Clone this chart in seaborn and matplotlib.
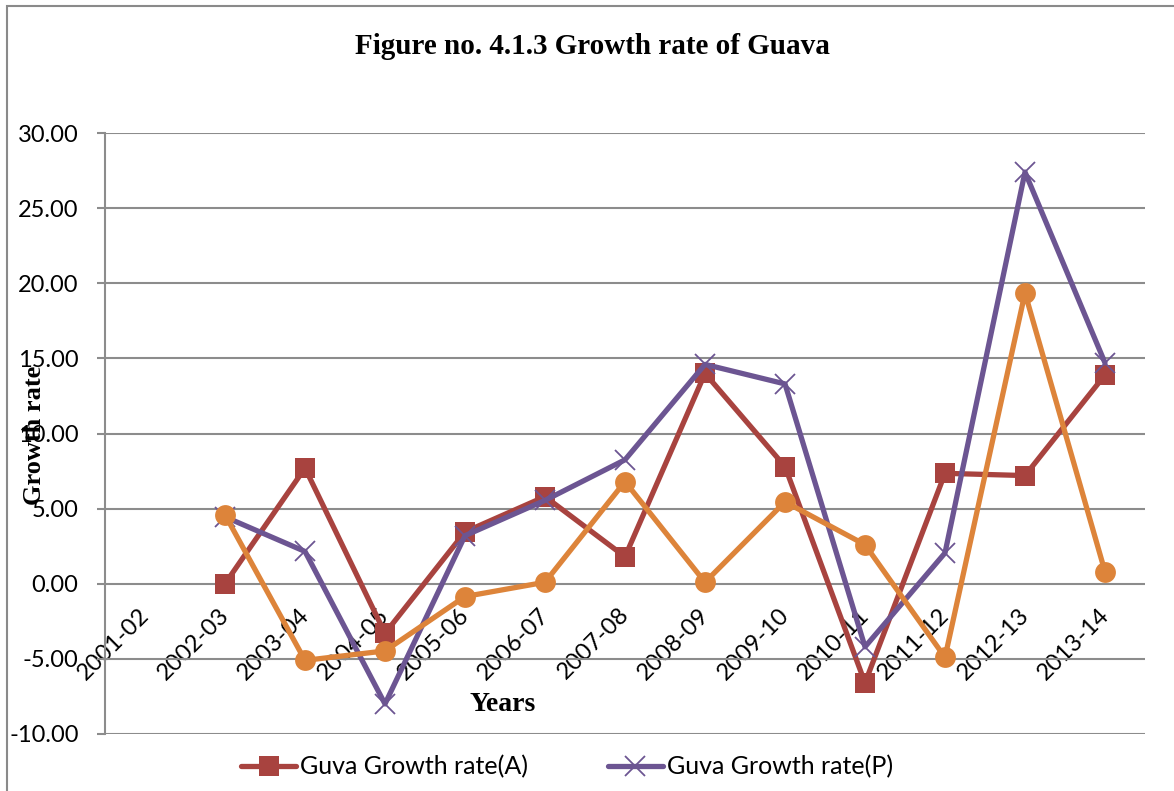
import numpy as np
import pandas as pd
import matplotlib
matplotlib.use("Agg")
import matplotlib.pyplot as plt
import matplotlib.patches as mpatches
import matplotlib.transforms as mtransforms
import seaborn as sns

# Years (categories on the x axis)
years = ["2001-02", "2002-03", "2003-04", "2004-05", "2005-06", "2006-07", "2007-08",
         "2008-09", "2009-10", "2010-11", "2011-12", "2012-13", "2013-14"]

# Growth rate of area (A), production (P) and the third (unlabelled) series
growth_area = [np.nan, 0.00, 7.70, -3.30, 3.45, 5.80, 1.80, 14.00, 7.80, -6.60, 7.35, 7.20, 13.90]
growth_production = [np.nan, 4.45, 2.15, -8.00, 3.20, 5.55, 8.25, 14.60, 13.30, -4.20, 2.05, 27.40, 14.70]
growth_productivity = [np.nan, 4.59, -5.10, -4.47, -0.85, 0.10, 6.80, 0.10, 5.45, 2.60, -4.90, 19.35, 0.80]

y_ticks = [-10, -5, 0, 5, 10, 15, 20, 25, 30]
y_tick_labels = [f"{v:.2f}" for v in y_ticks]

label_area = "Guva Growth rate(A)"
label_production = "Guva Growth rate(P)"

sns.set_theme(style="white")
plt.rcParams["font.family"] = ["Lato", "DejaVu Sans"]
plt.rcParams["text.color"] = "black"

red = "#A8433F"
purple = "#6C5592"
orange = "#DD843A"
grid_grey = "#8C8C8C"

fig = plt.figure(figsize=(11.74, 7.91), dpi=100)
ax = fig.add_axes([105 / 1174, 1 - 734 / 791, 1040 / 1174, 601 / 791])

df = pd.DataFrame({
    "pos": np.arange(len(years)),
    "A": growth_area,
    "P": growth_production,
    "Y": growth_productivity,
})

sns.lineplot(data=df, x="pos", y="A", ax=ax, color=red, linewidth=3.8,
             marker="s", markersize=14, markeredgewidth=0, label=label_area)
sns.lineplot(data=df, x="pos", y="P", ax=ax, color=purple, linewidth=3.8,
             marker="x", markersize=15, markeredgewidth=1.3, markeredgecolor=purple,
             label=label_production)
sns.lineplot(data=df, x="pos", y="Y", ax=ax, color=orange, linewidth=3.8,
             marker="o", markersize=15, markeredgewidth=0, label="_nolegend_")

ax.set_xlim(-0.5, len(years) - 0.5)
ax.set_ylim(-10, 30)

# horizontal gridlines
ax.set_yticks(y_ticks)
ax.set_yticklabels(y_tick_labels, fontsize=17, color="black")
ax.yaxis.grid(True, color=grid_grey, linewidth=1.5)
ax.xaxis.grid(False)
ax.set_axisbelow(True)
ax.tick_params(axis="y", direction="out", length=6, width=1.5, color=grid_grey,
               pad=13, left=True)

# category axis crosses the value axis at zero
ax.spines["bottom"].set_position(("data", 0))
ax.spines["bottom"].set_color("none")
ax.spines["top"].set_visible(False)
ax.spines["right"].set_visible(False)
ax.spines["left"].set_color(grid_grey)
ax.spines["left"].set_linewidth(1.5)
ax.set_xticks(np.arange(len(years)))
ax.set_xticklabels(years, fontsize=17, rotation=45, ha="right",
                   rotation_mode="anchor", color="black")
ax.tick_params(axis="x", length=0, pad=6)
shift = mtransforms.ScaledTranslation(-7 / 100, -12 / 100, fig.dpi_scale_trans)
for lbl in ax.get_xticklabels():
    lbl.set_transform(lbl.get_transform() + shift)

ax.set_xlabel("Years", fontsize=20, fontweight="bold", family="Liberation Serif",
              color="black")
ax.xaxis.set_label_coords((503 - 105) / 1040, (734 - 692) / 601)
ax.set_ylabel("Growth rate", fontsize=19, fontweight="bold", family="Liberation Serif",
              color="black")
ax.yaxis.set_label_coords((46 - 105) / 1040, (734 - 435) / 601)

fig.text(592 / 1174, 1 - 46 / 791, "Figure no. 4.1.3 Growth rate of Guava",
         ha="center", va="center", fontsize=21, fontweight="bold",
         family="Liberation Serif", color="black")

ax.get_legend().remove()
handles, labels = ax.get_legend_handles_labels()
fig.legend(handles, labels, loc="center", bbox_to_anchor=(567 / 1174, 1 - 767 / 791),
           ncol=2, frameon=False, fontsize=18, handlelength=2.2,
           handletextpad=0.15, columnspacing=3.2)

# chart-area border
fig.patches.append(mpatches.Rectangle((7 / 1174, -0.1), 1.2, 1.1 - 6 / 791,
                                      transform=fig.transFigure, fill=False,
                                      edgecolor="#8A8A8A", linewidth=1.5))

fig.savefig("out.png", dpi=100)
